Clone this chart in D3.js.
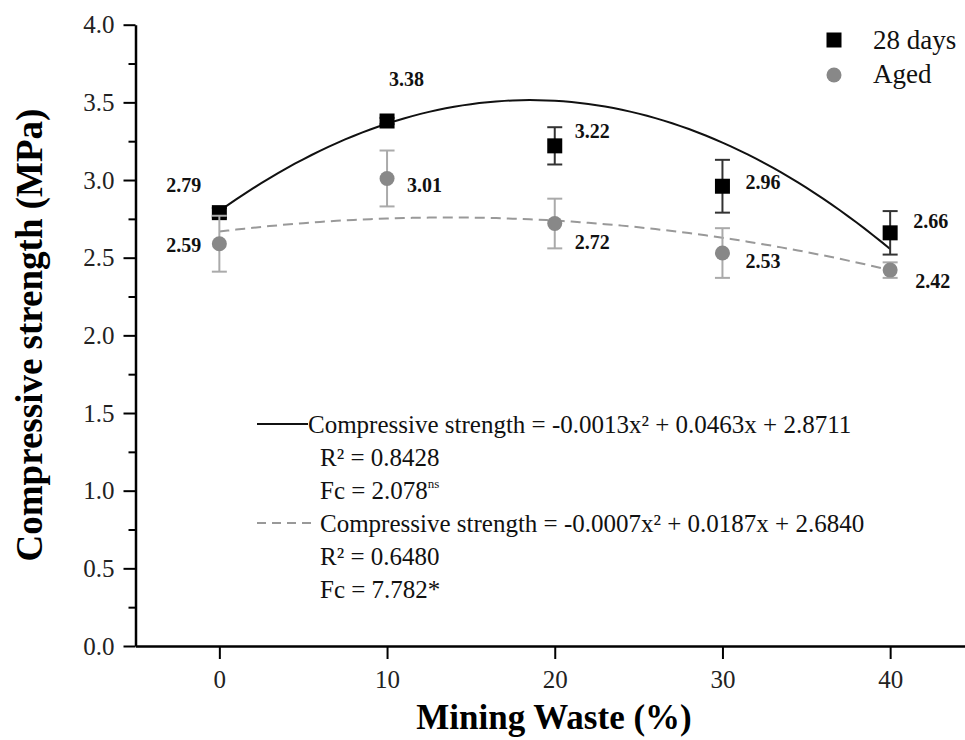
<!DOCTYPE html>
<html>
<head>
<meta charset="utf-8">
<title>Compressive strength vs mining waste</title>
<script src="https://d3js.org/d3.v7.min.js"></script>
<style>
  body { margin: 0; background: #fff; }
  svg text { font-family: "Liberation Serif", "Times New Roman", serif; }
</style>
</head>
<body>
<svg id="chart" width="965" height="740"></svg>
<script>
// data
var waste = [0, 10, 20, 30, 40];
var days28 = [2.79, 3.38, 3.22, 2.96, 2.66];
var days28Err = [0.03, 0.02, 0.12, 0.17, 0.14];
var aged = [2.59, 3.01, 2.72, 2.53, 2.42];
var agedErr = [0.18, 0.18, 0.16, 0.16, 0.05];
var xTicks = [0, 10, 20, 30, 40];
var yTicks = [0, 0.5, 1.0, 1.5, 2.0, 2.5, 3.0, 3.5, 4.0];
var yMinor = [0.25, 0.75, 1.25, 1.75, 2.25, 2.75, 3.25, 3.75];
// coefficients of the fitted curves as drawn (c, b, a)
var fit28 = [2.80, 0.0771, -0.00208];
var fitAged = [2.668, 0.0133, -0.0004875];
var eqLines = [
  "Compressive strength = -0.0013x\u00b2 + 0.0463x + 2.8711",
  "R\u00b2 = 0.8428",
  "Fc = 2.078",
  "Compressive strength = -0.0007x\u00b2 + 0.0187x + 2.6840",
  "R\u00b2 = 0.6480",
  "Fc = 7.782*"
];

var svg = d3.select("#chart");

var x = d3.scaleLinear().domain([-5, 45]).range([135.5, 974]);
var y = d3.scaleLinear().domain([0, 4]).range([646, 24.7]);

// axes
svg.append("g").attr("transform", "translate(135.5,0)")
  .call(d3.axisLeft(y).tickValues(yTicks).tickFormat(d3.format(".1f"))
    .tickSize(12).tickSizeOuter(0).tickPadding(9));
svg.append("g").attr("transform", "translate(135.5,0)")
  .call(d3.axisLeft(y).tickValues(yMinor).tickFormat("").tickSize(7).tickSizeOuter(0))
  .select(".domain").remove();
svg.append("g").attr("transform", "translate(0,646)")
  .call(d3.axisBottom(x).tickValues(xTicks).tickFormat(d3.format("d"))
    .tickSize(13).tickSizeOuter(0).tickPadding(11));

svg.selectAll(".domain").attr("stroke", "#000").attr("stroke-width", 2.5);
svg.selectAll(".tick line").attr("stroke", "#000").attr("stroke-width", 2);
svg.selectAll(".tick text").attr("fill", "#222")
  .style("font-family", "'Liberation Serif', serif").style("font-size", "25px");

// axis titles
svg.append("text").attr("x", 554).attr("y", 729).attr("text-anchor", "middle")
  .attr("font-size", 35).attr("font-weight", "bold").text("Mining Waste (%)");
svg.append("text").attr("transform", "translate(42,335) rotate(-90)")
  .attr("text-anchor", "middle").attr("font-size", 37).attr("font-weight", "bold")
  .text("Compressive strength (MPa)");

// fitted curves
function quad(c) { return function(v) { return c[0] + c[1] * v + c[2] * v * v; }; }
var xs = d3.range(0, 40.01, 0.5);
var line = d3.line().x(function(d) { return x(d[0]); }).y(function(d) { return y(d[1]); });

svg.append("path")
  .attr("d", line(xs.map(function(v) { return [v, quad(fitAged)(v)]; })))
  .attr("fill", "none").attr("stroke", "#999").attr("stroke-width", 2)
  .attr("stroke-dasharray", "10,6");
svg.append("path")
  .attr("d", line(xs.map(function(v) { return [v, quad(fit28)(v)]; })))
  .attr("fill", "none").attr("stroke", "#111").attr("stroke-width", 2);

// error bars
function errorBars(vals, errs, color) {
  var g = svg.append("g").attr("stroke", color).attr("stroke-width", 2);
  vals.forEach(function(v, i) {
    var cx = x(waste[i]);
    g.append("line").attr("x1", cx).attr("x2", cx)
      .attr("y1", y(v - errs[i])).attr("y2", y(v + errs[i]));
    [v - errs[i], v + errs[i]].forEach(function(e) {
      g.append("line").attr("x1", cx - 7.5).attr("x2", cx + 7.5)
        .attr("y1", y(e)).attr("y2", y(e));
    });
  });
}

errorBars(days28, days28Err, "#333");
svg.append("g").selectAll("rect").data(days28).enter().append("rect")
  .attr("x", function(d, i) { return x(waste[i]) - 7.5; })
  .attr("y", function(d) { return y(d) - 7.5; })
  .attr("width", 15).attr("height", 15).attr("fill", "#000");

errorBars(aged, agedErr, "#aaa");
svg.append("g").selectAll("circle").data(aged).enter().append("circle")
  .attr("cx", function(d, i) { return x(waste[i]); })
  .attr("cy", function(d) { return y(d); })
  .attr("r", 7.5).attr("fill", "#888");

// value labels
var off28 = [[-18, -28, "end"], [2, -42, "start"], [20, -15, "start"], [23, -4, "start"], [23, -12, "start"]];
var offAged = [[-18, 1, "end"], [20, 7, "start"], [20, 18, "start"], [23, 8, "start"], [25, 11, "start"]];
function valueLabels(vals, offs) {
  svg.append("g").selectAll("text").data(vals).enter().append("text")
    .attr("x", function(d, i) { return x(waste[i]) + offs[i][0]; })
    .attr("y", function(d, i) { return y(d) + offs[i][1] + 7; })
    .attr("text-anchor", function(d, i) { return offs[i][2]; })
    .attr("font-size", 20).attr("font-weight", "bold").attr("fill", "#111")
    .text(function(d) { return d.toFixed(2); });
}
valueLabels(days28, off28);
valueLabels(aged, offAged);

// legend
svg.append("rect").attr("x", 826.5).attr("y", 32.5).attr("width", 15).attr("height", 15).attr("fill", "#000");
svg.append("circle").attr("cx", 834).attr("cy", 75).attr("r", 7.5).attr("fill", "#888");
svg.append("text").attr("x", 873).attr("y", 49).attr("font-size", 27).attr("fill", "#111").text("28 days");
svg.append("text").attr("x", 873).attr("y", 83).attr("font-size", 27).attr("fill", "#111").text("Aged");

// regression notes
var eqY = [424, 457, 490, 523, 556, 589];
var eq = svg.append("g").attr("font-size", 25).attr("fill", "#111");
eqLines.forEach(function(t, i) {
  var tx = eq.append("text").attr("x", i === 0 ? 308 : 320).attr("y", eqY[i] + 8.5).text(t);
  if (i === 2) tx.append("tspan").attr("font-size", 13).attr("dy", -11).text("ns");
});
svg.append("line").attr("x1", 257).attr("x2", 308).attr("y1", eqY[0]).attr("y2", eqY[0])
  .attr("stroke", "#111").attr("stroke-width", 2);
svg.append("line").attr("x1", 257).attr("x2", 312).attr("y1", eqY[3]).attr("y2", eqY[3])
  .attr("stroke", "#999").attr("stroke-width", 2).attr("stroke-dasharray", "9,6");
</script>
</body>
</html>
